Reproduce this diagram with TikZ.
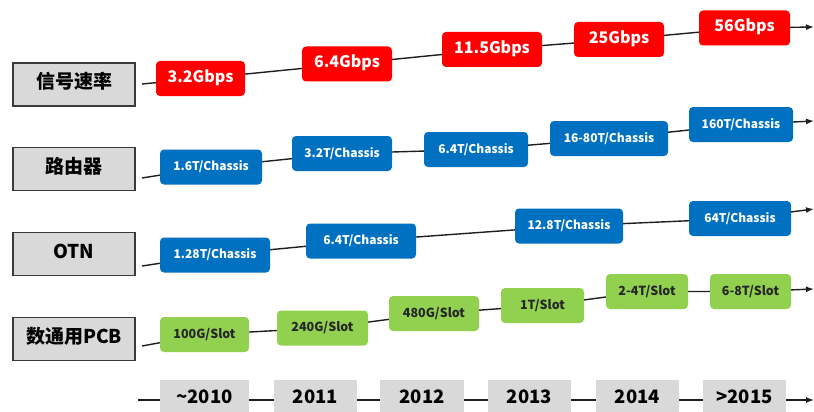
\documentclass[tikz,border=0pt]{standalone}
\usepackage{fontspec}
\setmainfont{Noto Sans CJK SC}
\usetikzlibrary{arrows.meta,backgrounds}
\definecolor{labfill}{HTML}{D9D9D9}
\definecolor{labborder}{HTML}{3A3A3A}
\definecolor{rrate}{HTML}{FF0000}
\definecolor{bblue}{HTML}{0070C0}
\definecolor{ggreen}{HTML}{92D050}
\definecolor{yfill}{HTML}{D9D9D9}
\definecolor{lnc}{HTML}{1E1E1E}
\tikzset{
  lab/.style={draw=labborder, line width=1.8pt, fill=labfill, minimum width=122, minimum height=43, inner sep=0,
    font=\bfseries\fontsize{19}{19}\selectfont, text=black, text height=0.8em, text depth=0pt},
  tagbox/.style={rounded corners=4pt, inner sep=0, minimum height=35, text height=0.73em, text depth=0pt},
  redbox/.style={tagbox, fill=rrate, text=white, minimum width=#1, font=\bfseries\fontsize{16}{16}\selectfont},
  bluebox/.style={tagbox, fill=bblue, text=white, minimum width=#1, font=\bfseries\fontsize{12}{12}\selectfont},
  greenbox/.style={tagbox, fill=ggreen, text=black!85, minimum width=#1, font=\bfseries\fontsize{12.5}{12.5}\selectfont},
  yearbox/.style={fill=yfill, inner sep=0, minimum width=#1, minimum height=40, text height=0.73em, text depth=0pt,
    font=\bfseries\fontsize{18.5}{18.5}\selectfont, text=black},
  trend/.style={draw=lnc, line width=1.4pt, -{Latex[length=8pt,width=6pt]}},
}
\begin{document}
\begin{tikzpicture}[x=1pt,y=-1pt]
\clip (0,0) rectangle (814,412);
\useasboundingbox (0,0) rectangle (814,412);

% left labels
\node[lab] (l1) at (74,84.5) {信号速率};
\node[lab] (l2) at (74,169) {路由器};
\node[lab] (l3) at (74,254) {OTN};
\node[lab] (l4) at (74,339) {数通用PCB};

% row 1
\node[redbox=89]  (a1) at (200.5,78.5) {3.2Gbps};
\node[redbox=90]  (a2) at (347,64) {6.4Gbps};
\node[redbox=100] (a3) at (492,49.5) {11.5Gbps};
\node[redbox=90]  (a4) at (619,39.5) {25Gbps};
\node[redbox=91]  (a5) at (744.5,28) {56Gbps};
\coordinate (as) at (142,84);
\coordinate (ae) at (814,27);

% row 2
\node[bluebox=102] (b1) at (211,167) {1.6T/Chassis};
\node[bluebox=100] (b2) at (342,153.5) {3.2T/Chassis};
\node[bluebox=104] (b3) at (476,149.5) {6.4T/Chassis};
\node[bluebox=118] (b4) at (609,138.5) {16-80T/Chassis};
\node[bluebox=104] (b5) at (741,124.5) {160T/Chassis};
\coordinate (bs) at (142,178);
\coordinate (be) at (814,121);

% row 3
\node[bluebox=110] (c1) at (215,255) {1.28T/Chassis};
\node[bluebox=110] (c2) at (361,241) {6.4T/Chassis};
\node[bluebox=108] (c3) at (569,226) {12.8T/Chassis};
\node[bluebox=102] (c4) at (740,218.5) {64T/Chassis};
\coordinate (cs) at (142,266);
\coordinate (ce) at (814,209);

% row 4
\node[greenbox=89] (d1) at (204.5,334.5) {100G/Slot};
\node[greenbox=91] (d2) at (322.5,328) {240G/Slot};
\node[greenbox=90] (d3) at (434,313.5) {480G/Slot};
\node[greenbox=83] (d4) at (542.5,305.5) {1T/Slot};
\node[greenbox=82] (d5) at (647,291.5) {2-4T/Slot};
\node[greenbox=81] (d6) at (750.5,291.5) {6-8T/Slot};
\coordinate (ds) at (142,346);
\coordinate (de) at (814,289);

% years
\node[yearbox=89] (y1) at (204.5,400) {\char`~2010};
\node[yearbox=83] (y2) at (315.5,400) {2011};
\node[yearbox=84] (y3) at (422,400) {2012};
\node[yearbox=83] (y4) at (529.5,400) {2013};
\node[yearbox=83] (y5) at (637.5,400) {2014};
\node[yearbox=83] (y6) at (744.5,400) {>2015};
\coordinate (ys) at (138,400);
\coordinate (ye) at (814,400);

\begin{scope}[on background layer]
\draw[trend] (as) -- (a1.center) -- (a2.center) -- (a3.center) -- (a4.center) -- (a5.center) -- (ae);
\draw[trend] (bs) -- (b1.center) -- (b2.center) -- (b3.center) -- (b4.center) -- (b5.center) -- (be);
\draw[trend] (cs) -- (c1.center) -- (c2.center) -- (c3.center) -- (c4.center) -- (ce);
\draw[trend] (ds) -- (d1.center) -- (d2.center) -- (d3.center) -- (d4.center) -- (d5.center) -- (d6.center) -- (de);
\draw[trend] (ys) -- (ye);
\end{scope}
\end{tikzpicture}
\end{document}
